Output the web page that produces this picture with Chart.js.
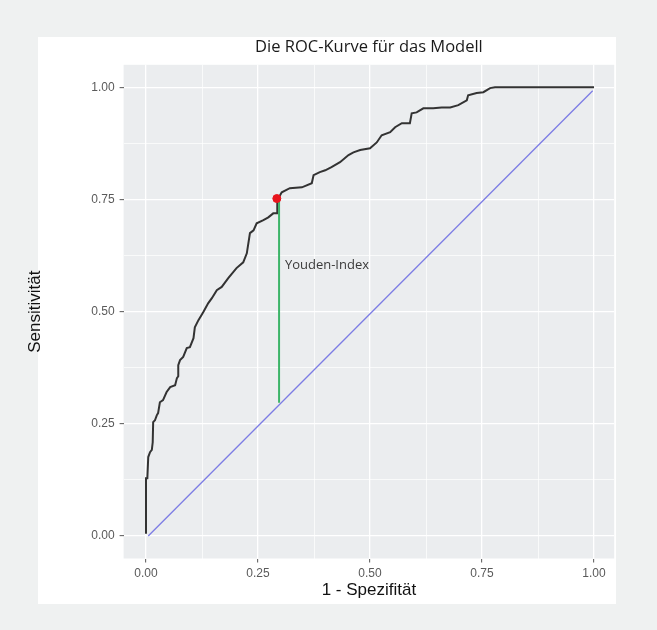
<!DOCTYPE html>
<html>
<head>
<meta charset="utf-8">
<script src="https://cdn.jsdelivr.net/npm/chart.js@4/dist/chart.umd.min.js"></script>
<style>
  html, body { margin: 0; padding: 0; background: #eff1f1; }
  canvas { display: block; }
</style>
</head>
<body>
<canvas id="rocChart" width="657" height="630"></canvas>
<script>
// ROC curve: 1 - specificity (x) against sensitivity (y)
const fpr = [
  0, 0, 0.003, 0.005, 0.009, 0.013, 0.015, 0.016, 0.020, 0.024,
  0.027, 0.031, 0.038, 0.046, 0.054, 0.065, 0.069, 0.072, 0.072, 0.076,
  0.083, 0.091, 0.098, 0.106, 0.109, 0.117, 0.128, 0.139, 0.147, 0.158,
  0.169, 0.184, 0.202, 0.217, 0.225, 0.232, 0.240, 0.247, 0.262, 0.273,
  0.284, 0.293, 0.293, 0.303, 0.321, 0.348, 0.370, 0.374, 0.388, 0.400,
  0.414, 0.433, 0.452, 0.463, 0.478, 0.500, 0.515, 0.526, 0.545, 0.556,
  0.571, 0.589, 0.593, 0.604, 0.619, 0.641, 0.660, 0.679, 0.697, 0.716,
  0.719, 0.738, 0.753, 0.768, 0.779, 1.000,
];
const tpr = [
  0.005, 0.129, 0.129, 0.176, 0.187, 0.192, 0.209, 0.254, 0.258, 0.269,
  0.274, 0.298, 0.303, 0.321, 0.332, 0.336, 0.352, 0.356, 0.381, 0.392,
  0.399, 0.419, 0.421, 0.441, 0.465, 0.481, 0.499, 0.519, 0.530, 0.548,
  0.555, 0.575, 0.597, 0.610, 0.630, 0.675, 0.681, 0.697, 0.704, 0.710,
  0.719, 0.719, 0.748, 0.766, 0.775, 0.777, 0.786, 0.804, 0.811, 0.815,
  0.822, 0.833, 0.849, 0.855, 0.860, 0.864, 0.877, 0.893, 0.900, 0.911,
  0.920, 0.920, 0.942, 0.944, 0.953, 0.953, 0.955, 0.955, 0.960, 0.971,
  0.982, 0.987, 0.989, 0.998, 1.000, 1.000,
];

// chance line
const diagX = [0.005, 0.997];
const diagY = [0, 0.992];

// optimal cut-off and Youden distance to the chance line
const youdenPoint = [0.292, 0.752];
const youdenLineX = [0.297, 0.297];
const youdenLineY = [0.297, 0.75];
const youdenLabel = "Youden-Index";
const youdenLabelPos = [0.31, 0.604];

// axes
const majorTicks = [0, 0.25, 0.5, 0.75, 1];
const gridValues = [0, 0.125, 0.25, 0.375, 0.5, 0.625, 0.75, 0.875, 1];

const toPoints = (xs, ys) => xs.map((x, i) => ({ x: x, y: ys[i] }));
const isMajor = (v) => majorTicks.some((m) => Math.abs(m - v) < 1e-9);

// outer frame, white plot box and grey panel
const background = {
  id: "background",
  beforeDraw(chart) {
    const { ctx, chartArea: a, width, height } = chart;
    ctx.save();
    ctx.fillStyle = "#eff1f1";
    ctx.fillRect(0, 0, width, height);
    ctx.fillStyle = "#ffffff";
    ctx.fillRect(38, 37, 578, 567);
    ctx.fillStyle = "#ebedef";
    ctx.fillRect(a.left, a.top, a.right - a.left, a.bottom - a.top);
    ctx.restore();
  },
};

const youdenText = {
  id: "youdenText",
  afterDatasetsDraw(chart) {
    const { ctx, scales } = chart;
    ctx.save();
    ctx.font = "13px 'Open Sans'";
    ctx.fillStyle = "#3a3a3a";
    ctx.textAlign = "left";
    ctx.textBaseline = "middle";
    ctx.fillText(
      youdenLabel,
      scales.x.getPixelForValue(youdenLabelPos[0]),
      scales.y.getPixelForValue(youdenLabelPos[1])
    );
    ctx.restore();
  },
};

const gridOptions = {
  color: "#ffffff",
  lineWidth: (c) => (isMajor(c.tick.value) ? 1.3 : 0.7),
  tickLength: 4,
  tickColor: (c) => (isMajor(c.tick.value) ? "#555555" : "rgba(0,0,0,0)"),
  tickWidth: 1,
};

const tickOptions = {
  color: "#5a5a5a",
  font: { family: "'Liberation Sans', Arial", size: 12 },
  callback: (value) => (isMajor(value) ? value.toFixed(2) : ""),
  autoSkip: false,
  maxRotation: 0,
};

const ctx = document.getElementById("rocChart").getContext("2d");
new Chart(ctx, {
  type: "scatter",
  data: {
    datasets: [
      {
        data: [{ x: youdenPoint[0], y: youdenPoint[1] }],
        backgroundColor: "#e8141c",
        borderColor: "#e8141c",
        pointRadius: 4,
        showLine: false,
      },
      {
        data: toPoints(youdenLineX, youdenLineY),
        borderColor: "#3cb468",
        borderWidth: 2,
        pointRadius: 0,
        showLine: true,
      },
      {
        data: toPoints(fpr, tpr),
        borderColor: "#333333",
        borderWidth: 2,
        pointRadius: 0,
        showLine: true,
      },
      {
        data: toPoints(diagX, diagY),
        borderColor: "#7c7ce4",
        borderWidth: 1.3,
        pointRadius: 0,
        showLine: true,
      },
    ],
  },
  options: {
    responsive: false,
    animation: false,
    layout: { padding: { left: 0, right: 42.8, top: 0, bottom: 0 } },
    plugins: {
      legend: { display: false },
      tooltip: { enabled: false },
      title: {
        display: true,
        text: "Die ROC-Kurve für das Modell",
        fullSize: false,
        color: "#1a1a1a",
        font: { family: "'Open Sans'", size: 16.5, weight: "normal" },
        padding: { top: 37.5, bottom: 7.5 },
      },
    },
    scales: {
      x: {
        type: "linear",
        min: -0.05,
        max: 1.045,
        afterBuildTicks: (s) => { s.ticks = gridValues.map((v) => ({ value: v })); },
        afterFit: (s) => { s.height = 71.5; },
        grid: gridOptions,
        border: { display: false },
        ticks: { ...tickOptions, padding: 4 },
        title: {
          display: true,
          text: "1 - Spezifität",
          color: "#111111",
          font: { family: "'Liberation Sans', Arial", size: 17 },
          padding: { top: 0, bottom: 29 },
        },
      },
      y: {
        type: "linear",
        min: -0.05,
        max: 1.05,
        afterBuildTicks: (s) => { s.ticks = gridValues.map((v) => ({ value: v })); },
        afterFit: (s) => { s.width = 123.6; },
        grid: gridOptions,
        border: { display: false },
        ticks: { ...tickOptions, padding: 5 },
        title: {
          display: true,
          text: "Sensitivität",
          color: "#111111",
          font: { family: "'Liberation Sans', Arial", size: 17 },
          padding: { top: 25, bottom: 0 },
        },
      },
    },
  },
  plugins: [background, youdenText],
});
</script>
</body>
</html>
